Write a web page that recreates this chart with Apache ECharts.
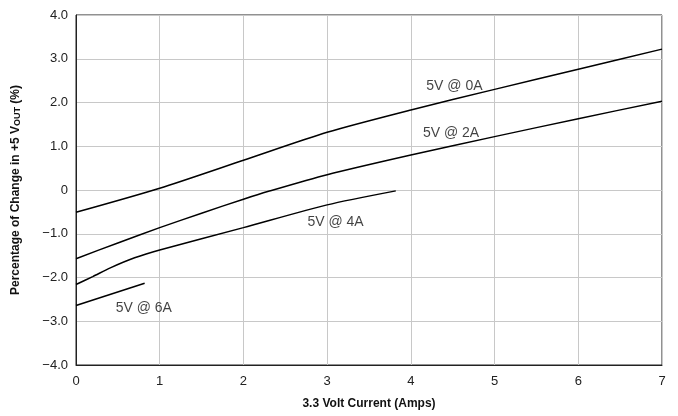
<!DOCTYPE html>
<html><head><meta charset="utf-8">
<script src="https://cdn.jsdelivr.net/npm/echarts@6/dist/echarts.min.js"></script>
<style>html,body{margin:0;padding:0;background:#fff}#c{width:678px;height:416px}</style>
</head><body><div id="c"></div>
<script>
const xTicks = [0, 1, 2, 3, 4, 5, 6, 7];
const yTicks = [-4, -3, -2, -1, 0, 1, 2, 3, 4];
const s0A = [[0, -0.51], [1, 0.04], [2, 0.68], [3, 1.32], [4, 1.83], [5, 2.3], [6, 2.76], [7, 3.22]];
const s2A = [[0, -1.57], [0.5, -1.21], [1, -0.86], [1.5, -0.53], [2, -0.21], [2.3, -0.03], [3, 0.35], [4, 0.8], [5, 1.22], [6, 1.63], [7, 2.03]];
const s4A = [[0, -2.16], [0.2, -1.98], [0.41, -1.78], [0.7, -1.55], [1, -1.37], [2, -0.86], [3, -0.34], [3.82, -0.02]];
const s6A = [[0, -2.64], [0.82, -2.13]];
const seriesNames = ['5V @ 0A', '5V @ 2A', '5V @ 4A', '5V @ 6A'];
const labelPts = [[4.52, 2.38, '5V @ 0A'], [4.48, 1.31, '5V @ 2A'], [3.1, -0.74, '5V @ 4A'], [0.81, -2.7, '5V @ 6A']];

const font = 'Liberation Sans, Arial, sans-serif';
const chart = echarts.init(document.getElementById('c'));
const fmtY = v => v === 0 ? '0' : (v < 0 ? '\u2212' + Math.abs(v).toFixed(1) : v.toFixed(1));
const lineData = [s0A, s2A, s4A, s6A];
chart.setOption({
  animation: false,
  grid: {left: 76, right: 16, top: 15, bottom: 51, show: true, borderColor: '#222', borderWidth: 1},
  xAxis: {
    type: 'value', min: 0, max: 7, interval: 1,
    name: '3.3 Volt Current (Amps)', nameLocation: 'middle', nameGap: 33,
    nameTextStyle: {fontFamily: font, fontSize: 12, fontWeight: 'bold', color: '#111'},
    axisLine: {show: true, onZero: false, lineStyle: {color: '#222', width: 1}},
    axisTick: {show: false},
    axisLabel: {fontFamily: font, fontSize: 13, color: '#222', margin: 10},
    splitLine: {show: true, lineStyle: {color: '#c8c8c8', width: 1}}
  },
  yAxis: {
    type: 'value', min: -4, max: 4, interval: 1,
    name: '{a|Percentage of Change in +5 V}{b|OUT}{a| (%)}', nameLocation: 'middle', nameGap: 54, nameRotate: 90,
    nameTextStyle: {rich: {
      a: {fontFamily: font, fontSize: 12, fontWeight: 'bold', color: '#111'},
      b: {fontFamily: font, fontSize: 9, fontWeight: 'bold', color: '#111', padding: [3, 0, 0, 0]}
    }},
    axisLine: {show: true, onZero: false, lineStyle: {color: '#222', width: 1}},
    axisTick: {show: false},
    axisLabel: {fontFamily: font, fontSize: 13, color: '#222', margin: 8, formatter: fmtY},
    splitLine: {show: true, lineStyle: {color: '#c8c8c8', width: 1}}
  },
  series: lineData.map((d, i) => ({
    name: seriesNames[i], type: 'line', data: d, smooth: 0.25, symbol: 'none',
    lineStyle: {color: '#000', width: 1.5}
  })).concat([{
    type: 'scatter', symbolSize: 0, silent: true,
    data: labelPts.map(p => ({value: [p[0], p[1]], name: p[2]})),
    label: {show: true, position: 'inside', formatter: p => p.name, fontFamily: font, fontSize: 14, color: '#111'}
  }])
});
</script></body></html>
